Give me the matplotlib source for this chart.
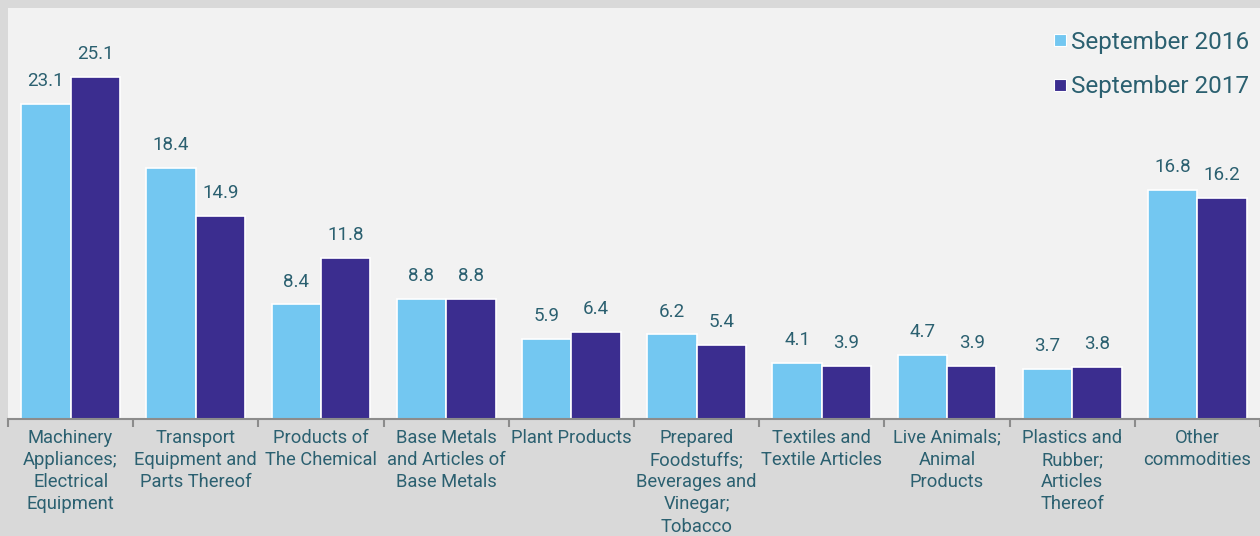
import matplotlib
matplotlib.use("Agg")
import matplotlib.pyplot as plt
from matplotlib.lines import Line2D
import numpy as np

categories = [
    "Machinery\nAppliances;\nElectrical\nEquipment",
    "Transport\nEquipment and\nParts Thereof",
    "Products of\nThe Chemical",
    "Base Metals\nand Articles of\nBase Metals",
    "Plant Products",
    "Prepared\nFoodstuffs;\nBeverages and\nVinegar;\nTobacco",
    "Textiles and\nTextile Articles",
    "Live Animals;\nAnimal\nProducts",
    "Plastics and\nRubber;\nArticles\nThereof",
    "Other\ncommodities",
]
sep2016 = [23.1, 18.4, 8.4, 8.8, 5.9, 6.2, 4.1, 4.7, 3.7, 16.8]
sep2017 = [25.1, 14.9, 11.8, 8.8, 6.4, 5.4, 3.9, 3.9, 3.8, 16.2]
series_names = ["September 2016", "September 2017"]

LIGHT = "#73c7f1"
DARK = "#3b2d8f"
TEXT = "#2b6070"
FONT = "Roboto"

fig = plt.figure(figsize=(12.6, 5.36), dpi=100, facecolor="#d9d9d9")
ax = fig.add_axes([8/1260, 117/536, 1252/1260, 411/536])
ax.set_facecolor("#f2f2f2")

x = np.arange(len(categories))
w = 0.395
b1 = ax.bar(x - w/2, sep2016, w, color=LIGHT, edgecolor="white", linewidth=1.2)
b2 = ax.bar(x + w/2, sep2017, w, color=DARK, edgecolor="white", linewidth=1.2)

for bars, vals in ((b1, sep2016), (b2, sep2017)):
    for rect, v in zip(bars, vals):
        ax.annotate(f"{v:.1f}", (rect.get_x() + rect.get_width()/2, v),
                    xytext=(0, 10), textcoords="offset points",
                    ha="center", va="bottom", fontsize=13.5, color=TEXT,
                    family=FONT)

ax.set_xlim(-0.5, len(categories) - 0.5)
ax.set_ylim(0, 30.15)
ax.set_yticks([])
for s in ("top", "right", "left"):
    ax.spines[s].set_visible(False)
ax.spines["bottom"].set_color("#8c8c8c")
ax.spines["bottom"].set_linewidth(1.5)

ax.set_xticks(np.arange(len(categories) + 1) - 0.5)
ax.set_xticklabels([])
ax.tick_params(axis="x", which="major", length=6, width=1.5, color="#8c8c8c", direction="out")
ax.set_xticks(x, minor=True)
ax.set_xticklabels(categories, minor=True, fontsize=13.2, color=TEXT, family=FONT,
                   linespacing=1.3)
ax.tick_params(axis="x", which="minor", length=0, pad=7)

handles = [Line2D([], [], marker="s", linestyle="none", markersize=8,
                  markerfacecolor=c, markeredgecolor="white", markeredgewidth=0.8)
           for c in (LIGHT, DARK)]
leg = ax.legend(handles, series_names, loc="upper right", frameon=False,
                prop={"family": FONT, "size": 17.5}, labelcolor=TEXT,
                handlelength=0.6, handletextpad=0.15, labelspacing=0.88,
                borderaxespad=0.2, bbox_to_anchor=(1.003, 0.98))

fig.savefig("out.png", dpi=100, facecolor=fig.get_facecolor())
